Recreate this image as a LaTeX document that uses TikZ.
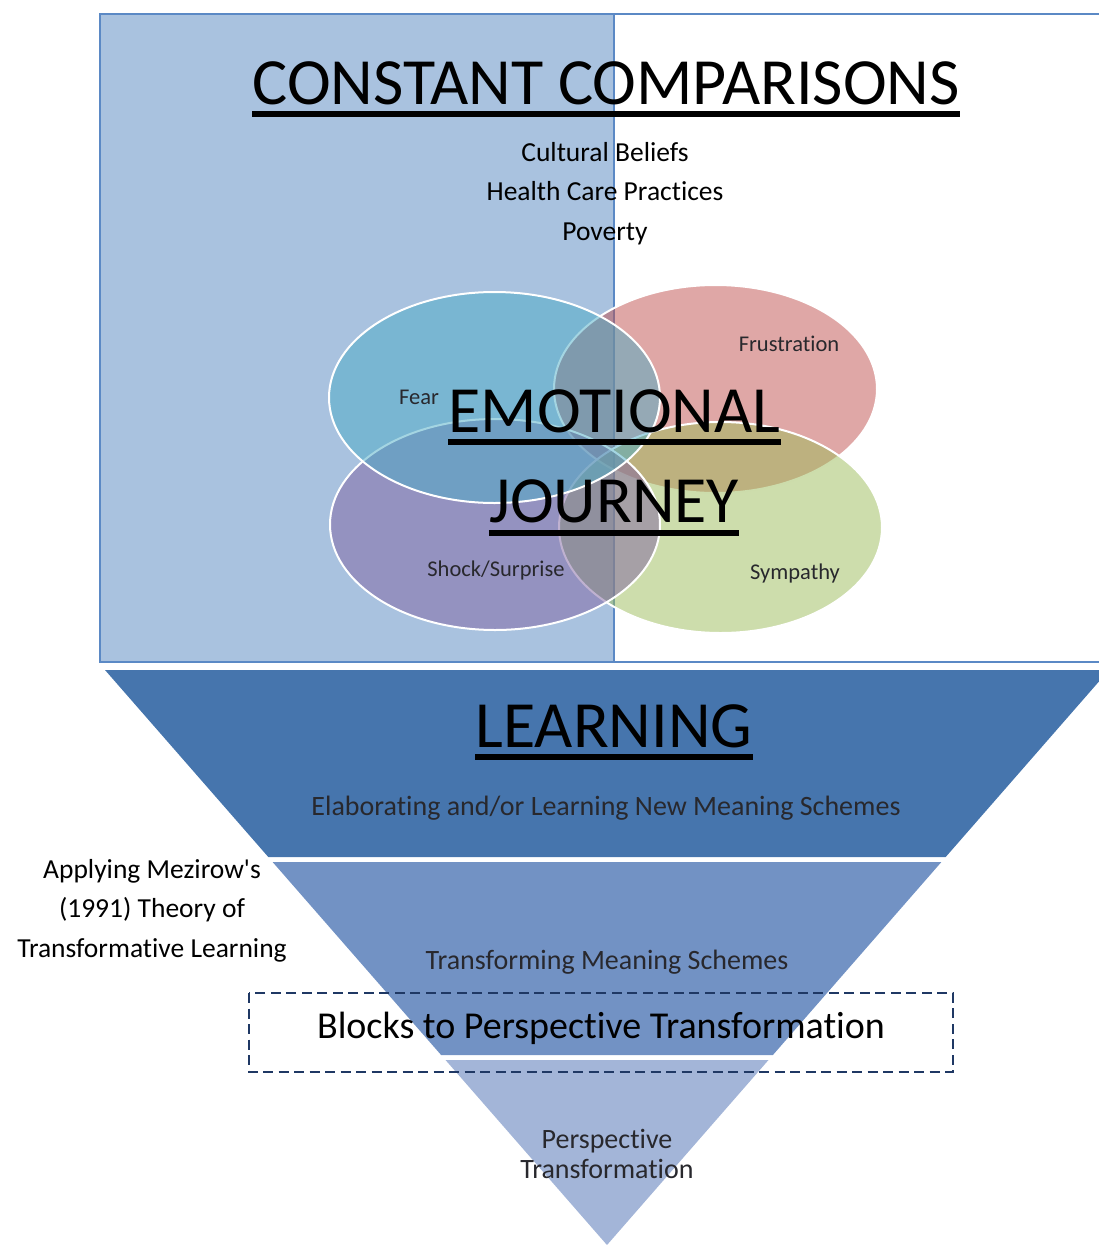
\documentclass[tikz,border=0pt]{standalone}
\usepackage{fontspec}
\setmainfont{Carlito}[Ligatures={NoCommon}]
\usetikzlibrary{shapes.geometric}
\definecolor{bordblue}{RGB}{91,137,197}
\definecolor{lightfill}{RGB}{169,194,223}
\definecolor{bandA}{RGB}{70,117,173}
\definecolor{bandB}{RGB}{114,146,196}
\definecolor{bandC}{RGB}{163,181,216}
\definecolor{fearc}{RGB}{75,172,198}
\definecolor{frusc}{RGB}{192,80,77}
\definecolor{shockc}{RGB}{128,100,162}
\definecolor{sympc}{RGB}{155,187,89}
\definecolor{navy}{RGB}{31,56,100}
\definecolor{labgrey}{RGB}{40,40,45}
\begin{document}
\begin{tikzpicture}[x=1pt,y=-1pt,
  venn/.style={ellipse, draw=white, line width=2pt, fill opacity=0.5, draw opacity=1},
  bigtitle/.style={inner sep=0pt, anchor=base, font=\fontsize{66}{66}\selectfont},
  listtxt/.style={inner sep=0pt, anchor=base, font=\fontsize{27.5}{27.5}\selectfont},
  vennlab/.style={inner sep=0pt, anchor=base, text=labgrey, font=\fontsize{22.5}{22.5}\selectfont},
  bandtxt/.style={inner sep=0pt, anchor=base, text=labgrey, font=\fontsize{28}{28}\selectfont},
  uline/.style={line width=5.5pt}]
\useasboundingbox (0,0) rectangle (1099,1245);
\clip (0,0) rectangle (1099,1245);
% top panel
\fill[lightfill] (100,14) rectangle (614,662);
\draw[bordblue, line width=1.6pt] (1110,14) -- (100,14) -- (100,662) -- (1110,662);
\draw[bordblue, line width=1.6pt] (614,14) -- (614,662);
% venn ellipses
\node[venn, fill=frusc, minimum width=323pt, minimum height=208pt] (frus) at (715.5,389) {};
\node[venn, fill=sympc, minimum width=323pt, minimum height=211pt] (symp) at (720.5,527.5) {};
\node[venn, fill=shockc, minimum width=330pt, minimum height=211pt] (shock) at (495,524.5) {};
\node[venn, fill=fearc, minimum width=331pt, minimum height=211pt] (fear) at (494.5,397.5) {};
\node[vennlab] (lfrus) at (789,351) {Frustration};
\node[vennlab] (lfear) at (419,404) {Fear};
\node[vennlab] (lshock) at (496,576) {Shock/Surprise};
\node[vennlab] (lsymp) at (795,579) {Sympathy};
% titles
\node[bigtitle] (cc) at (606,104) {CONSTANT COMPARISONS};
\draw[uline] ([yshift=-10pt]cc.base west) -- ([yshift=-10pt]cc.base east);
\node[listtxt] (cb) at (605,161) {Cultural Beliefs};
\node[listtxt] (hc) at (605,200) {Health Care Practices};
\node[listtxt] (pov) at (605,240) {Poverty};
\node[bigtitle] (emo) at (614.5,432) {EMOTIONAL};
\draw[uline] ([yshift=-10pt]emo.base west) -- ([yshift=-10pt]emo.base east);
\node[bigtitle] (jou) at (614,522) {JOURNEY};
\draw[uline] ([yshift=-11pt]jou.base west) -- ([yshift=-11pt]jou.base east);
% funnel
\fill[bandA] (105,670) -- (1109,670) -- (945.7,857) -- (268.3,857) -- cycle;
\fill[bandB] (272.6,862) -- (941.4,862) -- (772.9,1055) -- (441.1,1055) -- cycle;
\fill[bandC] (445.5,1060) -- (768.5,1060) -- (607,1245) -- cycle;
\node[bigtitle] (learn) at (614,747) {LEARNING};
\draw[uline] ([yshift=-10pt]learn.base west) -- ([yshift=-10pt]learn.base east);
\node[bandtxt] (elab) at (606,815) {Elaborating and/or Learning New Meaning Schemes};
\node[bandtxt] (trans) at (607,969) {Transforming Meaning Schemes};
\node[bandtxt] (persp1) at (607,1148) {Perspective};
\node[bandtxt] (persp2) at (607,1178) {Transformation};
% side text
\node[listtxt] (ap1) at (152,878) {Applying Mezirow\textquotesingle s};
\node[listtxt] (ap2) at (152,917) {(1991) Theory of};
\node[listtxt] (ap3) at (152,957) {Transformative Learning};
% blocks box
\draw[navy, line width=2.6pt, dash pattern=on 10pt off 5.5pt] (249,993) rectangle (953,1072);
\node[inner sep=0pt, anchor=base, font=\fontsize{38}{38}\selectfont] (blocks) at (601,1038) {Blocks to Perspective Transformation};
\end{tikzpicture}
\end{document}
